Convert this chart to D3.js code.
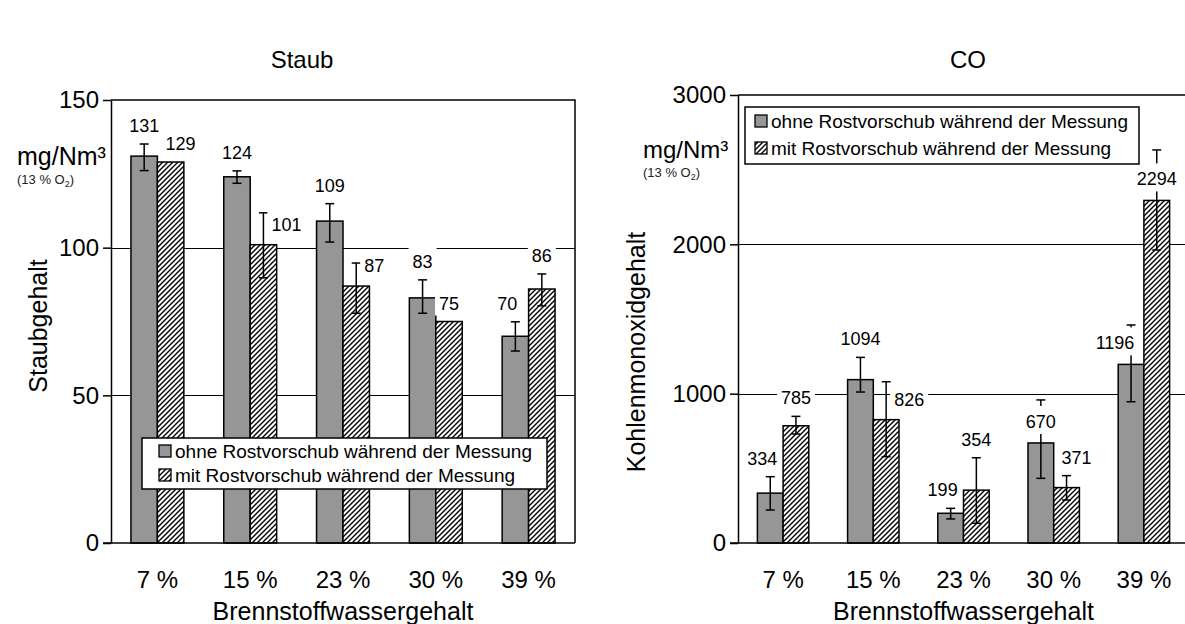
<!DOCTYPE html>
<meta charset="utf-8">
<style>
  body { margin: 0; background: #fff; }
  svg { font-family: "Liberation Sans", Arial, sans-serif; }
  .grid line { stroke: #000; stroke-width: 1px; shape-rendering: crispEdges; }
  .tick text { font-size: 24px; fill: #000; }
</style>
<script src="https://d3js.org/d3.v7.min.js"></script>
<body>
<div id="chart"></div>
<script>

// categories and series
var categories = ["7 %", "15 %", "23 %", "30 %", "39 %"];
var seriesNames = ["ohne Rostvorschub während der Messung", "mit Rostvorschub während der Messung"];

// Staub (mg/Nm³)
var staubOhne   = [131, 124, 109, 83, 70];
var staubOhneLo = [126.1, 121.8, 101.9, 77.8, 65.0];
var staubOhneHi = [135.1, 126.0, 114.9, 89.1, 74.9];
var staubMit    = [129, 101, 87, 75, 86];
var staubMitLo  = [null, 89.8, 77.8, null, 80.3];
var staubMitHi  = [null, 111.8, 94.8, null, 91.1];
var staubTicks  = [0, 50, 100, 150];

// CO (mg/Nm³)
var coOhne   = [334, 1094, 199, 670, 1196];
var coOhneLo = [221, 1011, 161, 433, 946];
var coOhneHi = [444, 1243, 232, 958, 1460];
var coMit    = [785, 826, 354, 371, 2294];
var coMitLo  = [730, 578, 132, 288, 1962];
var coMitHi  = [848, 1080, 571, 451, 2632];
var coTicks  = [0, 1000, 2000, 3000];

// where each value label sits (layout hints)
var staubOhnePlace = ["above", "above", "above", "above", "aboveLeft"];
var staubMitPlace  = ["aboveRight", "right", "right", "above", "above"];
var coOhnePlace    = ["aboveLeft", "above", "aboveLeft", "overBar", "overBarLeft"];
var coMitPlace     = ["above", "right", "above", "aboveRight", "overBar"];

var svg = d3.select("#chart").append("svg")
    .attr("width", 1185)
    .attr("height", 624);

var defs = svg.append("defs");
var pat = defs.append("pattern")
    .attr("id", "hatch")
    .attr("patternUnits", "userSpaceOnUse")
    .attr("width", 5)
    .attr("height", 5);
pat.append("rect").attr("width", 5).attr("height", 5).attr("fill", "#fff");
pat.append("path")
    .attr("d", "M-1,1 l2,-2 M0,5 l5,-5 M4,6 l2,-2")
    .attr("stroke", "#000")
    .attr("stroke-width", 1.4);

var fills = ["#969696", "url(#hatch)"];

function drawPanel(cfg) {
  var g = svg.append("g");

  var x = d3.scaleBand()
      .domain(categories)
      .range([cfg.left, cfg.right])
      .paddingInner(0.43)
      .paddingOuter(0.215);

  var xs = d3.scaleBand()
      .domain([0, 1])
      .range([0, x.bandwidth()]);

  var y = d3.scaleLinear()
      .domain([0, cfg.ticks[cfg.ticks.length - 1]])
      .range([cfg.bottom, cfg.top]);

  // gridlines
  g.append("g")
      .attr("class", "grid")
    .selectAll("line")
    .data(cfg.ticks.slice(1, -1))
    .enter().append("line")
      .attr("x1", cfg.left)
      .attr("x2", cfg.right)
      .attr("y1", function(d) { return Math.round(y(d)) + 0.5; })
      .attr("y2", function(d) { return Math.round(y(d)) + 0.5; });

  // frame (top + right)
  g.append("path")
      .attr("d", "M" + cfg.left + "," + y(cfg.ticks[cfg.ticks.length - 1]) +
                 "H" + cfg.right + "V" + cfg.bottom)
      .attr("fill", "none")
      .attr("stroke", "#000")
      .attr("stroke-width", 1.5);

  // bars
  var rows = [];
  cfg.series.forEach(function(s, si) {
    s.values.forEach(function(v, i) {
      rows.push({s: si, i: i, v: v, lo: s.lo[i], hi: s.hi[i], place: s.place[i]});
    });
  });

  function cx(d) { return x(categories[d.i]) + xs(d.s) + xs.bandwidth() / 2; }

  g.selectAll("rect.bar")
      .data(rows)
    .enter().append("rect")
      .attr("class", "bar")
      .attr("x", function(d) { return x(categories[d.i]) + xs(d.s); })
      .attr("width", xs.bandwidth())
      .attr("y", function(d) { return y(d.v); })
      .attr("height", function(d) { return y(0) - y(d.v); })
      .attr("fill", function(d) { return fills[d.s]; })
      .attr("stroke", "#000")
      .attr("stroke-width", 1.5);

  // error bars
  var eb = rows.filter(function(d) { return d.lo != null; });
  var ebg = g.selectAll("g.err").data(eb).enter().append("g")
      .attr("class", "err")
      .attr("stroke", "#000")
      .attr("stroke-width", 1.5);
  ebg.append("line")
      .attr("x1", cx).attr("x2", cx)
      .attr("y1", function(d) { return y(d.lo); })
      .attr("y2", function(d) { return y(d.hi); });
  ebg.append("line")
      .attr("x1", function(d) { return cx(d) - 4.5; })
      .attr("x2", function(d) { return cx(d) + 4.5; })
      .attr("y1", function(d) { return y(d.lo); })
      .attr("y2", function(d) { return y(d.lo); });
  ebg.append("line")
      .attr("x1", function(d) { return cx(d) - 4.5; })
      .attr("x2", function(d) { return cx(d) + 4.5; })
      .attr("y1", function(d) { return y(d.hi); })
      .attr("y2", function(d) { return y(d.hi); });

  // axes
  var yAxis = g.append("g")
      .attr("transform", "translate(" + cfg.left + ",0)")
      .call(d3.axisLeft(y).tickValues(cfg.ticks).tickFormat(d3.format("d"))
        .tickSize(8).tickSizeOuter(0).tickPadding(4));
  yAxis.select(".domain").attr("stroke-width", 1.5);
  yAxis.selectAll(".tick line").attr("stroke-width", 1.5);
  yAxis.selectAll(".tick text").attr("font-family", null).attr("font-size", null);

  g.append("line")
      .attr("x1", cfg.left - 8)
      .attr("x2", cfg.right)
      .attr("y1", y(0))
      .attr("y2", y(0))
      .attr("stroke", "#000")
      .attr("stroke-width", 1.5);

  g.selectAll("text.xlab")
      .data(categories)
    .enter().append("text")
      .attr("class", "xlab")
      .attr("x", function(d) { return x(d) + x.bandwidth() / 2; })
      .attr("y", y(0) + 45)
      .attr("text-anchor", "middle")
      .attr("font-size", 24)
      .text(function(d) { return d; });

  // value labels with white boxes
  var shift = {above: 0, aboveLeft: -8, aboveRight: 10, overBar: 0, overBarLeft: -16};
  var lab = g.selectAll("g.lab").data(rows).enter().append("g").attr("class", "lab");
  lab.each(function(d) {
    var el = d3.select(this);
    var c = cx(d), top = y(d.v), tx, ty, anchor = "middle";
    if (d.place === "right") {
      tx = c + 8; ty = top - 14; anchor = "start";
    } else if (d.place === "overBar" || d.place === "overBarLeft") {
      tx = c + shift[d.place]; ty = top - 15;
    } else {
      tx = c + shift[d.place];
      ty = (d.hi != null ? y(d.hi) : top) - 12;
    }
    var bg = el.append("rect").attr("fill", "#fff");
    var t = el.append("text")
        .attr("x", tx)
        .attr("y", ty)
        .attr("text-anchor", anchor)
        .attr("font-size", 18)
        .text(d.v);
    var bb = t.node().getBBox();
    bg.attr("x", bb.x - 4).attr("y", bb.y - 6)
      .attr("width", bb.width + 8).attr("height", bb.height + 8);
  });

  // legend
  var L = cfg.legend;
  var lg = g.append("g");
  lg.append("rect")
      .attr("x", L.x).attr("y", L.y)
      .attr("width", L.w).attr("height", L.h)
      .attr("fill", "#fff")
      .attr("stroke", "#000")
      .attr("stroke-width", 1.5);
  seriesNames.forEach(function(name, i) {
    var by = L.y + L.b0 + i * L.gap;
    lg.append("rect")
        .attr("x", L.tx - 16).attr("y", by - 13)
        .attr("width", 12).attr("height", 12)
        .attr("fill", fills[i])
        .attr("stroke", "#000")
        .attr("stroke-width", 1.3);
    lg.append("text")
        .attr("x", L.tx).attr("y", by)
        .attr("font-size", 19)
        .text(name);
  });

  // titles
  g.append("text")
      .attr("x", cfg.titleX).attr("y", 68)
      .attr("text-anchor", "middle")
      .attr("font-size", 24)
      .text(cfg.title);

  g.append("text")
      .attr("transform", "translate(" + cfg.yTitleX + "," + cfg.yTitleY + ") rotate(-90)")
      .attr("text-anchor", "middle")
      .attr("font-size", 25)
      .text(cfg.yTitle);

  g.append("text")
      .attr("x", (cfg.left + cfg.right) / 2)
      .attr("y", 620)
      .attr("text-anchor", "middle")
      .attr("font-size", 25)
      .text("Brennstoffwassergehalt");

  var unit = g.append("text")
      .attr("x", cfg.unitX).attr("y", cfg.unitY)
      .attr("font-size", cfg.unitSize)
      .text("mg/Nm³");
  var sub = g.append("text")
      .attr("x", cfg.unitX).attr("y", cfg.unitY + 19)
      .attr("font-size", 13)
      .attr("fill", "#222");
  sub.append("tspan").text("(13 % O");
  sub.append("tspan").attr("font-size", 9).attr("dy", 3).text("2");
  sub.append("tspan").attr("dy", -3).text(")");
}

drawPanel({
  left: 111, right: 575, top: 100, bottom: 543,
  ticks: staubTicks,
  series: [
    {values: staubOhne, lo: staubOhneLo, hi: staubOhneHi, place: staubOhnePlace},
    {values: staubMit, lo: staubMitLo, hi: staubMitHi, place: staubMitPlace}
  ],
  legend: {x: 142, y: 438, w: 405, h: 51, b0: 20, gap: 24, tx: 175},
  title: "Staub", titleX: 302,
  yTitle: "Staubgehalt", yTitleX: 47, yTitleY: 326,
  unitX: 17, unitY: 165, unitSize: 25
});

drawPanel({
  left: 738, right: 1189, top: 95, bottom: 543,
  ticks: coTicks,
  series: [
    {values: coOhne, lo: coOhneLo, hi: coOhneHi, place: coOhnePlace},
    {values: coMit, lo: coMitLo, hi: coMitHi, place: coMitPlace}
  ],
  legend: {x: 745, y: 107, w: 394, h: 57, b0: 21, gap: 27, tx: 771},
  title: "CO", titleX: 968,
  yTitle: "Kohlenmonoxidgehalt", yTitleX: 645, yTitleY: 352,
  unitX: 643, unitY: 158, unitSize: 24
});

</script>
</body>
